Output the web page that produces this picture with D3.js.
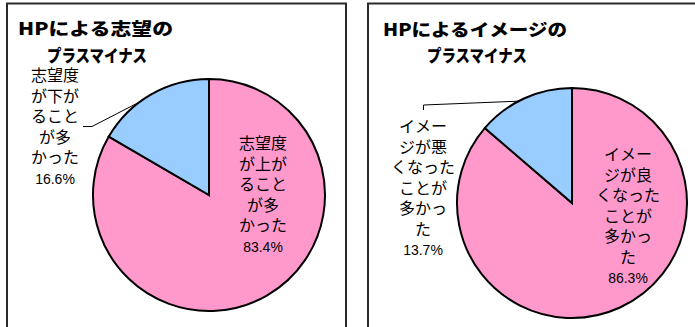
<!DOCTYPE html>
<html lang="ja">
<head>
<meta charset="utf-8">
<script src="https://cdn.jsdelivr.net/npm/d3@7"></script>
<style>
  html, body { margin: 0; padding: 0; background: #fff; }
  svg { display: block; }
</style>
</head>
<body>
<svg id="chart" width="695" height="327"></svg>
<script>
// Survey results: effect of the home page on applicants
const titleA = ["HPによる志望の", "プラスマイナス"];
const categoriesA = ["志望度が上がることが多かった", "志望度が下がることが多かった"];
const valuesA = [83.4, 16.6];
const labelLinesA = [["志望度", "が上が", "ること", "が多", "かった"],
                     ["志望度", "が下が", "ること", "が多", "かった"]];

const titleB = ["HPによるイメージの", "プラスマイナス"];
const categoriesB = ["イメージが良くなったことが多かった", "イメージが悪くなったことが多かった"];
const valuesB = [86.3, 13.7];
const labelLinesB = [["イメー", "ジが良", "くなった", "ことが", "多かっ", "た"],
                     ["イメー", "ジが悪", "くなった", "ことが", "多かっ", "た"]];

const colors = ["#FF99CC", "#99CCFF"];

const svg = d3.select("#chart");
const labelFont = "'Liberation Sans', Arial, 'Noto Sans CJK JP', sans-serif";
const titleFont = "'Noto Sans CJK JP', sans-serif";

// Layout for each panel
const panels = [
  {
    title: titleA, cats: categoriesA, values: valuesA, lines: labelLinesA,
    box: { x: 7, y: 3.5, w: 339, h: 330 },
    titlePos: [{ x: 18, y: 35, len: 155 }, { x: 47, y: 62, len: 100 }],
    cx: 209, cy: 195, r: 116,
    inside: { x: 263, y: 149 },
    outside: { x: 55, y: 81 },
    leader: { anchorDeg: -36.5, path: [[83, 126.5], [92, 126.5]] }
  },
  {
    title: titleB, cats: categoriesB, values: valuesB, lines: labelLinesB,
    box: { x: 368, y: 3.5, w: 340, h: 330 },
    titlePos: [{ x: 383, y: 36, len: 184 }, { x: 427, y: 62, len: 100 }],
    cx: 572, cy: 203, r: 115,
    inside: { x: 628, y: 160 },
    outside: { x: 423, y: 132 },
    leader: { anchorDeg: -27.7, path: [[423.5, 110], [423.5, 105]] }
  }
];

const lineStep = 20.5;

panels.forEach(p => {
  const g = svg.append("g");

  // frame
  g.append("rect")
    .attr("x", p.box.x).attr("y", p.box.y)
    .attr("width", p.box.w).attr("height", p.box.h)
    .attr("fill", "#fff")
    .attr("stroke", "#2a2a2a")
    .attr("stroke-width", 2);

  // title
  g.selectAll("text.title")
    .data(p.title)
    .join("text")
    .attr("class", "title")
    .attr("x", (d, i) => p.titlePos[i].x)
    .attr("y", (d, i) => p.titlePos[i].y)
    .attr("textLength", (d, i) => p.titlePos[i].len)
    .attr("lengthAdjust", "spacingAndGlyphs")
    .attr("font-family", titleFont)
    .attr("font-weight", 900)
    .attr("font-size", 17)
    .attr("fill", "#000")
    .text(d => d);

  // pie
  const data = p.values.map((v, i) => ({ cat: p.cats[i], value: v, idx: i }));
  const pie = d3.pie().sort(null).value(d => d.value);
  const arc = d3.arc().innerRadius(0).outerRadius(p.r);
  const arcs = pie(data);

  const pg = g.append("g").attr("transform", `translate(${p.cx},${p.cy})`);
  pg.selectAll("path")
    .data(arcs)
    .join("path")
    .attr("d", arc)
    .attr("fill", d => colors[d.data.idx])
    .attr("stroke", "#000")
    .attr("stroke-width", 2)
    .attr("stroke-linejoin", "miter");

  // leader line from the small slice's label to its edge
  const a = p.leader.anchorDeg * Math.PI / 180;
  const edge = d3.pointRadial(a, p.r);
  const pts = p.leader.path.concat([[p.cx + edge[0], p.cy + edge[1]]]);
  g.append("path")
    .attr("d", d3.line()(pts))
    .attr("fill", "none")
    .attr("stroke", "#000")
    .attr("stroke-width", 1);

  // labels: category text lines plus percentage
  const fmt = d3.format(".1f");
  const drawLabel = (pos, lines, value) => {
    const rows = lines.map(t => ({ t, pct: false }))
      .concat([{ t: fmt(value) + "%", pct: true }]);
    g.append("g").selectAll("text")
      .data(rows)
      .join("text")
      .attr("x", pos.x)
      .attr("y", (d, i) => pos.y + i * lineStep)
      .attr("text-anchor", "middle")
      .attr("font-family", labelFont)
      .attr("font-size", d => d.pct ? 14 : 16)
      .attr("fill", "#000")
      .text(d => d.t);
  };
  drawLabel(p.inside, p.lines[0], p.values[0]);
  drawLabel(p.outside, p.lines[1], p.values[1]);
});
</script>
</body>
</html>
